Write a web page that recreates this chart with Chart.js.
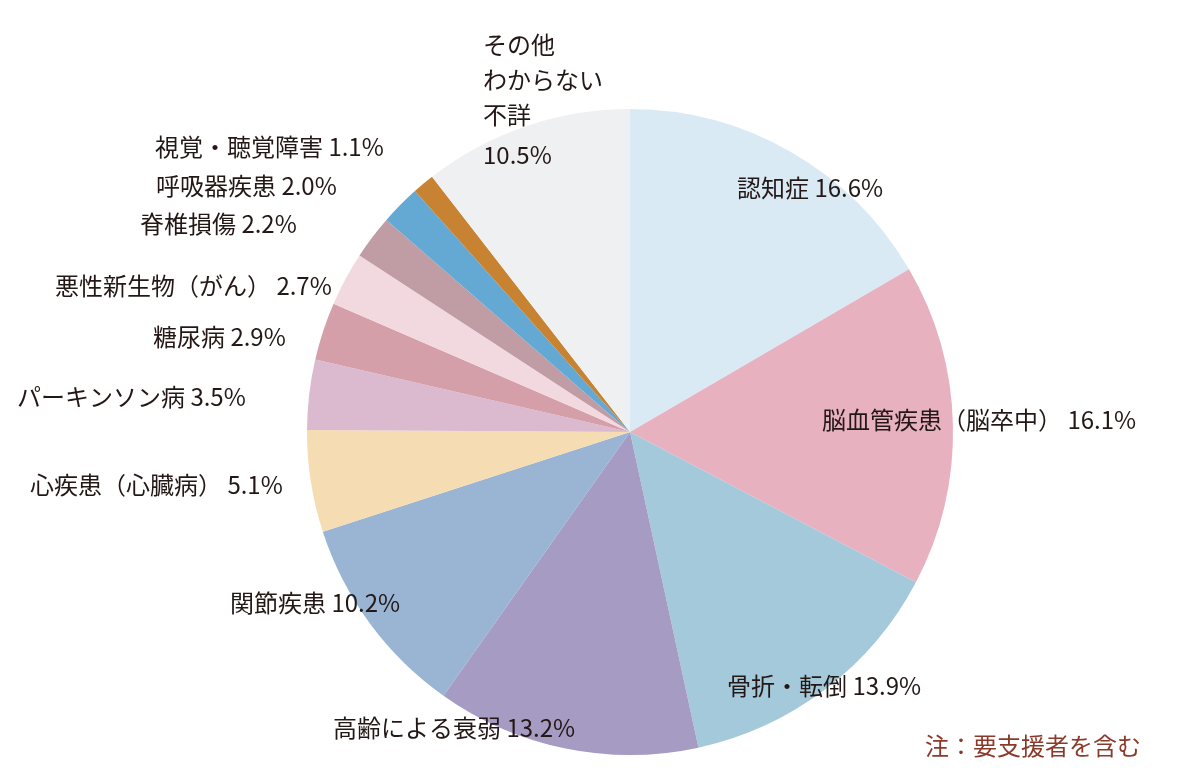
<!DOCTYPE html>
<html><head><meta charset="utf-8">
<script src="https://cdn.jsdelivr.net/npm/chart.js@4"></script>
<style>html,body{margin:0;padding:0;background:#fff}#w{width:1200px;height:779px;position:relative}</style>
</head><body><div id="w"><canvas id="c"></canvas></div>
<script>
const categories = ["認知症","脳血管疾患（脳卒中）","骨折・転倒","高齢による衰弱","関節疾患","心疾患（心臓病）","パーキンソン病","糖尿病","悪性新生物（がん）","脊椎損傷","呼吸器疾患","視覚・聴覚障害","その他\nわからない\n不詳"];
const values = [16.6,16.1,13.9,13.2,10.2,5.1,3.5,2.9,2.7,2.2,2.0,1.1,10.5];
const colors = ["#d9eaf4","#e8b1bf","#a4c9da","#a59bc3","#9ab5d4","#f5dcb2","#dbbacf","#d59faa","#f2d9e0","#c09ca5","#63a9d3","#c78232","#eff0f2"];
const labelPos = [[737,188],[822,420],[727,686],[333,728],[230,603],[30,485],[17,397],[153,337],[55,286],[140,224],[156,186],[155,147],[483,45]];
const note = "注：要支援者を含む";
const FONT = '"Noto Sans CJK JP", "Noto Sans", sans-serif';
const labelPlugin = {
  id:'lbl',
  afterDraw(chart){
    const ctx = chart.ctx; ctx.save();
    ctx.font = '24px '+FONT; ctx.fillStyle = '#231815'; ctx.textBaseline='middle'; ctx.textAlign='left';
    categories.forEach((c,i)=>{
      const [x,y] = labelPos[i];
      const v = values[i].toFixed(1)+'%';
      if (c.includes('\n')) {
        const lines = c.split('\n');
        lines.forEach((l,j)=>ctx.fillText(l,x,y+j*35));
        ctx.fillText(v,x,y+lines.length*35+5);
      } else ctx.fillText(c+' '+v,x,y);
    });
    ctx.fillStyle='#8b3a2a'; ctx.fillText(note,925,746);
    ctx.restore();
  }
};
new Chart(document.getElementById('c'),{
  type:'pie',
  data:{labels:categories,datasets:[{data:values,backgroundColor:colors,borderWidth:0}]},
  options:{responsive:true,maintainAspectRatio:false,animation:false,
    layout:{padding:{top:109,bottom:24,left:307,right:247}},
    plugins:{legend:{display:false},tooltip:{enabled:false}}},
  plugins:[labelPlugin]
});
</script></body></html>
